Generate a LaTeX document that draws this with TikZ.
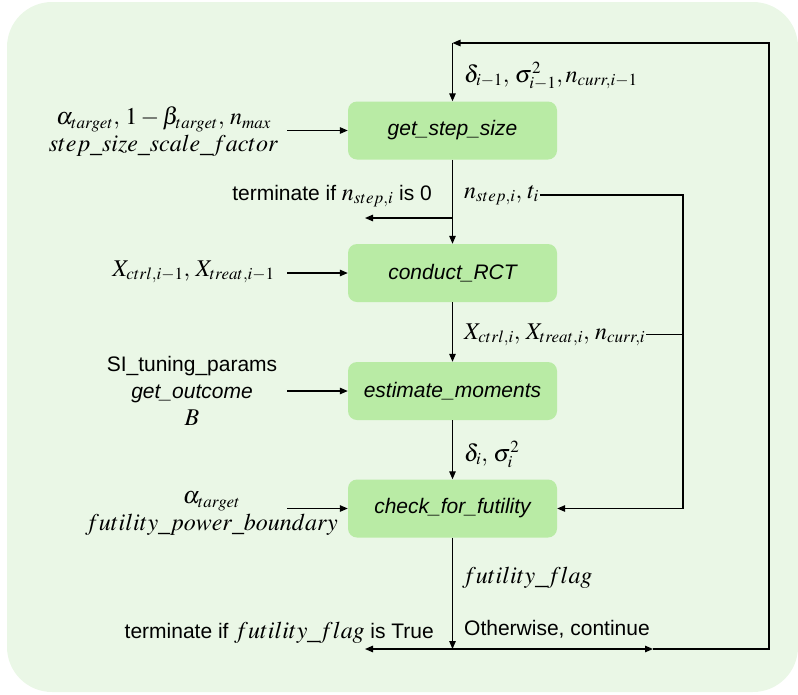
\documentclass[tikz,border=0pt]{standalone}
\usepackage{mathptmx}
\usepackage[no-math]{fontspec}
\setmainfont{Liberation Sans}
\DeclareMathSizes{21}{24}{17}{13}
\usetikzlibrary{arrows.meta}
\definecolor{panel}{HTML}{EAF7E6}
\definecolor{stepfill}{HTML}{B9EBA5}
\begin{document}
\begin{tikzpicture}[x=1pt,y=-1pt,
  every node/.style={font=\fontsize{21}{27}\selectfont, inner sep=1pt},
  stepbox/.style={rectangle, rounded corners=9pt, fill=stepfill,
    minimum width=209pt, minimum height=58pt,
    font=\fontsize{21}{27}\selectfont\itshape},
  flow/.style={line width=1.2pt, -{Triangle[length=8pt,width=6.5pt]}},
  wire/.style={line width=1.2pt},
  lbl/.style={anchor=base west},
  inp/.style={align=center},
]
\useasboundingbox (0,0) rectangle (798,694);
\fill[panel, rounded corners=45pt] (7,2) rectangle (798,692);

% processing steps
\node[stepbox] (gss) at (452.5,130.5) {get\_step\_size};
\node[stepbox] (rct) at (452.5,273) {conduct\_RCT};
\node[stepbox] (est) at (452.5,391) {estimate\_moments};
\node[stepbox] (chk) at (452.5,508.5) {check\_for\_futility};

% inputs on the left
\node[inp] (in1) at (163.5,132) {$\alpha_{target},\, 1-\beta_{target},\, n_{max}$\\ $step\_size\_scale\_factor$};
\node[inp] (in2) at (193.5,272) {$X_{ctrl,i-1},\, X_{treat,i-1}$};
\node[inp] (in3) at (192,391) {SI\_tuning\_params\\ \textit{get\_outcome}\\ $B$};
\node[inp] (in4) at (211.5,514) {$\alpha_{target}$\\ $futility\_power\_boundary$};

% edge labels
\node[lbl] (lab1) at (463,82) {$\delta_{i-1},\, \sigma^2_{i-1}, n_{curr,i-1}$};
\node[lbl] (lab2) at (463,198) {$n_{step,i},\, t_i$};
\node[lbl] (lab3) at (463,339) {$X_{ctrl,i},\, X_{treat,i},\, n_{curr,i}$};
\node[lbl] (lab4) at (463,461) {$\delta_i,\, \sigma_i^2$};
\node[lbl] (lab5) at (461,583) {$futility\_flag$};
\node[lbl] (lab6) at (463,635) {Otherwise, continue};
\node[anchor=base east] (term1) at (433,200) {terminate if $n_{step,i}$ is 0};
\node[anchor=base east] (term2) at (435,638) {terminate if $futility\_flag$ is True};

% junction points
\coordinate (lx) at (287,0);
\coordinate (rx) at (683,0);
\coordinate (top) at (452.5,43);
\coordinate (tr) at (769,43);
\coordinate (br) at (769,649);
\coordinate (join) at (452.5,649);
\coordinate (forkA) at (452.5,218);
\coordinate (stopA) at (365,218);
\coordinate (stopB) at (365,649);
\coordinate (goOn) at (653,649);

% inputs into steps
\draw[flow] (lx |- gss.west) -- (gss.west);
\draw[flow] (lx |- rct.west) -- (rct.west);
\draw[flow] (lx |- est.west) -- (est.west);
\draw[flow] (lx |- chk.west) -- (chk.west);

% main chain
\draw[flow] (top) -- (gss.north);
\draw[flow] (gss.south) -- (rct.north);
\draw[flow] (forkA) -- (stopA);
\draw[flow] (rct.south) -- (est.north);
\draw[flow] (est.south) -- (chk.north);
\draw[flow] (chk.south) -- (join);
\draw[flow] (join) -- (stopB);
\draw[flow] (join) -- (goOn);
\draw[flow] (goOn) -- (br) -- (tr) -- (top);

% side channel into the futility check
\draw[flow] (lab2.east) -| (rx |- chk.east) -- (chk.east);
\draw[wire] (lab3.east) -- (rx |- lab3.east);
\end{tikzpicture}
\end{document}
